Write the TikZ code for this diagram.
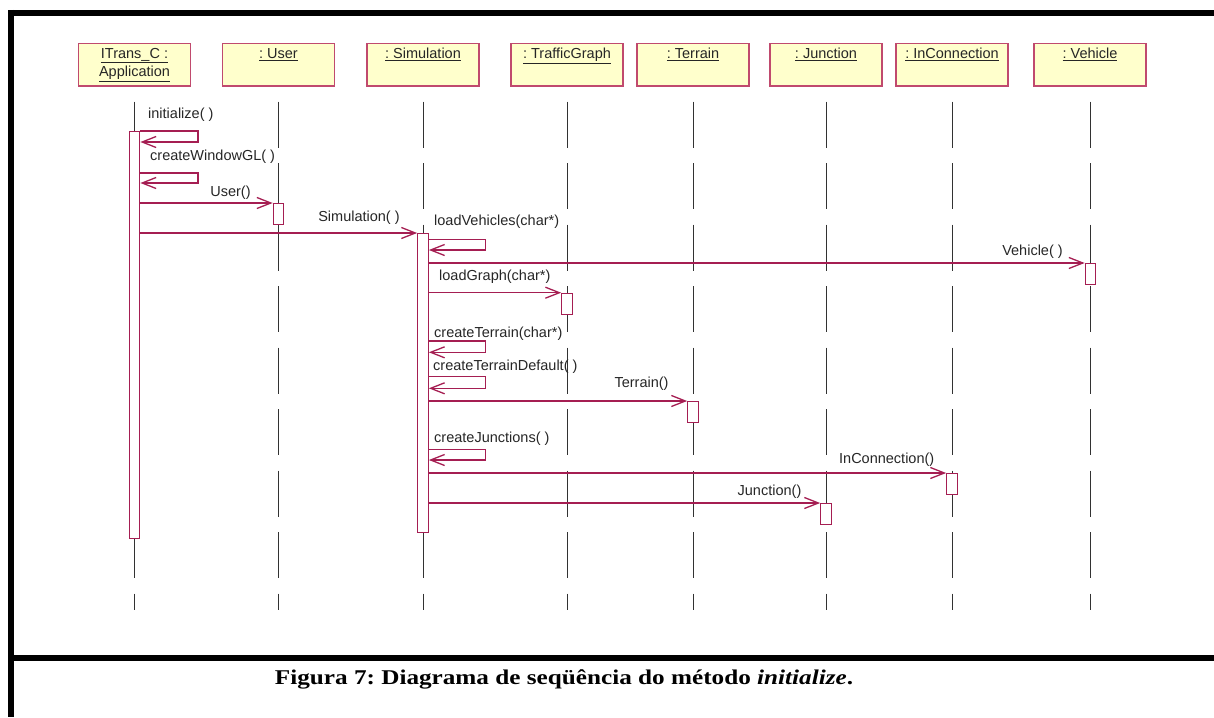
\documentclass[tikz,border=0pt]{standalone}
\usepackage{fontspec}
\setmainfont{Liberation Serif}
\setsansfont{Liberation Sans}
\usetikzlibrary{arrows.meta}
\frenchspacing
\definecolor{umlline}{RGB}{165,30,82}
\definecolor{umlbox}{RGB}{192,74,110}
\definecolor{umlfill}{RGB}{255,255,204}
\definecolor{lifegray}{RGB}{50,50,50}
\begin{document}
\begin{tikzpicture}[x=1pt,y=-1pt,
  objbox/.style={draw=umlbox, fill=umlfill, line width=1.5pt, minimum width=112pt,
    minimum height=42pt, inner sep=0pt, anchor=north},
  objname/.style={font=\sffamily\fontsize{14.5}{18}\selectfont, align=center,
    inner sep=0pt, text=black!85},
  lifeline/.style={draw=lifegray, line width=1pt, dash pattern=on 46pt off 15.5pt},
  actbar/.style={draw=umlline, fill=white, line width=1.2pt, minimum width=10.5pt,
    inner sep=0pt, anchor=north},
  msg/.style={draw=umlline, line width=1.3pt, -{Straight Barb[length=14pt,width=11pt]}},
  msglabel/.style={font=\sffamily\fontsize{14.5}{17}\selectfont, inner sep=0pt, text=black!85},
  frameline/.style={line width=6pt}
]
\useasboundingbox (0,0) rectangle (1214,717);

% frame
\draw[frameline] (11,10) -- (11,717);
\draw[frameline] (8,13) -- (1214,13);
\draw[frameline] (8,658) -- (1214,658);

% object heads
\node[objbox, label={[objname, anchor=north, yshift=-5pt]north:\underline{ITrans\_C :}\\\underline{Application}}] (app) at (134.5,43) {};
\node[objbox, label={[objname, anchor=north, yshift=-5pt]north:\underline{: User}}] (user) at (278.5,43) {};
\node[objbox, label={[objname, anchor=north, yshift=-5pt]north:\underline{: Simulation}}] (sim) at (423,43) {};
\node[objbox, label={[objname, anchor=north, yshift=-5pt]north:\underline{: TrafficGraph}}] (tg) at (567,43) {};
\node[objbox, label={[objname, anchor=north, yshift=-5pt]north:\underline{: Terrain}}] (terr) at (693,43) {};
\node[objbox, label={[objname, anchor=north, yshift=-5pt]north:\underline{: Junction}}] (jun) at (826,43) {};
\node[objbox, label={[objname, anchor=north, yshift=-5pt]north:\underline{: InConnection}}] (ic) at (952,43) {};
\node[objbox, label={[objname, anchor=north, yshift=-5pt]north:\underline{: Vehicle}}] (veh) at (1090,43) {};

% lifelines
\foreach \o in {app,user,sim,tg,terr,jun,ic,veh}{
  \draw[lifeline] ([yshift=-15pt]\o.south) -- ([yshift=-523pt]\o.south);
}

% activation bars
\node[actbar, minimum height=406.5pt] (appbar) at (134.5,131) {};
\node[actbar, minimum height=21pt] (userbar) at (278.5,203) {};
\node[actbar, minimum height=299pt] (simbar) at (423,233) {};
\node[actbar, minimum height=21.3pt] (tgbar) at (567,292.7) {};
\node[actbar, minimum height=21pt] (terrbar) at (693,401) {};
\node[actbar, minimum height=21pt] (junbar) at (826,503) {};
\node[actbar, minimum height=21pt] (icbar) at (952,473) {};
\node[actbar, minimum height=21pt] (vehbar) at (1090.5,263) {};

% messages sent by the application
\draw[msg] (appbar.east |- 0,131) -- (198,131) -- (198,142) -- (appbar.east |- 0,142);
\node[msglabel, anchor=west] (l1) at (148,115) {initialize( )};
\draw[msg] (appbar.east |- 0,173) -- (198,173) -- (198,183) -- (appbar.east |- 0,183);
\node[msglabel, anchor=west] (l2) at (150,157) {createWindowGL( )};
\draw[msg] (appbar.east |- userbar.north) -- (userbar.north west);
\node[msglabel] (l3) at (230.5,193) {User()};
\draw[msg] (appbar.east |- simbar.north) -- (simbar.north west);
\node[msglabel] (l4) at (359,218) {Simulation( )};

% messages sent by the simulation
\draw[msg] (simbar.east |- 0,239.3) -- (485.7,239.3) -- (485.7,250) -- (simbar.east |- 0,250);
\node[msglabel, anchor=west] (l5) at (434,221.7) {loadVehicles(char*)};
\draw[msg] (simbar.east |- vehbar.north) -- (vehbar.north west);
\node[msglabel] (l6) at (1032.5,252) {Vehicle( )};
\draw[msg] (simbar.east |- tgbar.north) -- (tgbar.north west);
\node[msglabel, anchor=west] (l7) at (439,276.7) {loadGraph(char*)};
\draw[msg] (simbar.east |- 0,341) -- (485.7,341) -- (485.7,352.3) -- (simbar.east |- 0,352.3);
\node[msglabel, anchor=west] (l8) at (434,334) {createTerrain(char*)};
\draw[msg] (simbar.east |- 0,376.7) -- (485.7,376.7) -- (485.7,388.3) -- (simbar.east |- 0,388.3);
\node[msglabel, anchor=west] (l9) at (433,367) {createTerrainDefault( )};
\draw[msg] (simbar.east |- terrbar.north) -- (terrbar.north west);
\node[msglabel] (l10) at (641.5,384) {Terrain()};
\draw[msg] (simbar.east |- 0,449.3) -- (485.7,449.3) -- (485.7,460) -- (simbar.east |- 0,460);
\node[msglabel, anchor=west] (l11) at (434,439) {createJunctions( )};
\draw[msg] (simbar.east |- icbar.north) -- (icbar.north west);
\node[msglabel] (l12) at (886.7,460) {InConnection()};
\draw[msg] (simbar.east |- junbar.north) -- (junbar.north west);
\node[msglabel] (l13) at (769.5,492) {Junction()};

% caption
\node[font=\bfseries\fontsize{21}{25}\selectfont, anchor=base, inner sep=0pt] (cap) at (564,684)
  {\scalebox{1.2}[1]{Figura 7: Diagrama de seqüência do método \textit{initialize}.}};
\end{tikzpicture}
\end{document}
